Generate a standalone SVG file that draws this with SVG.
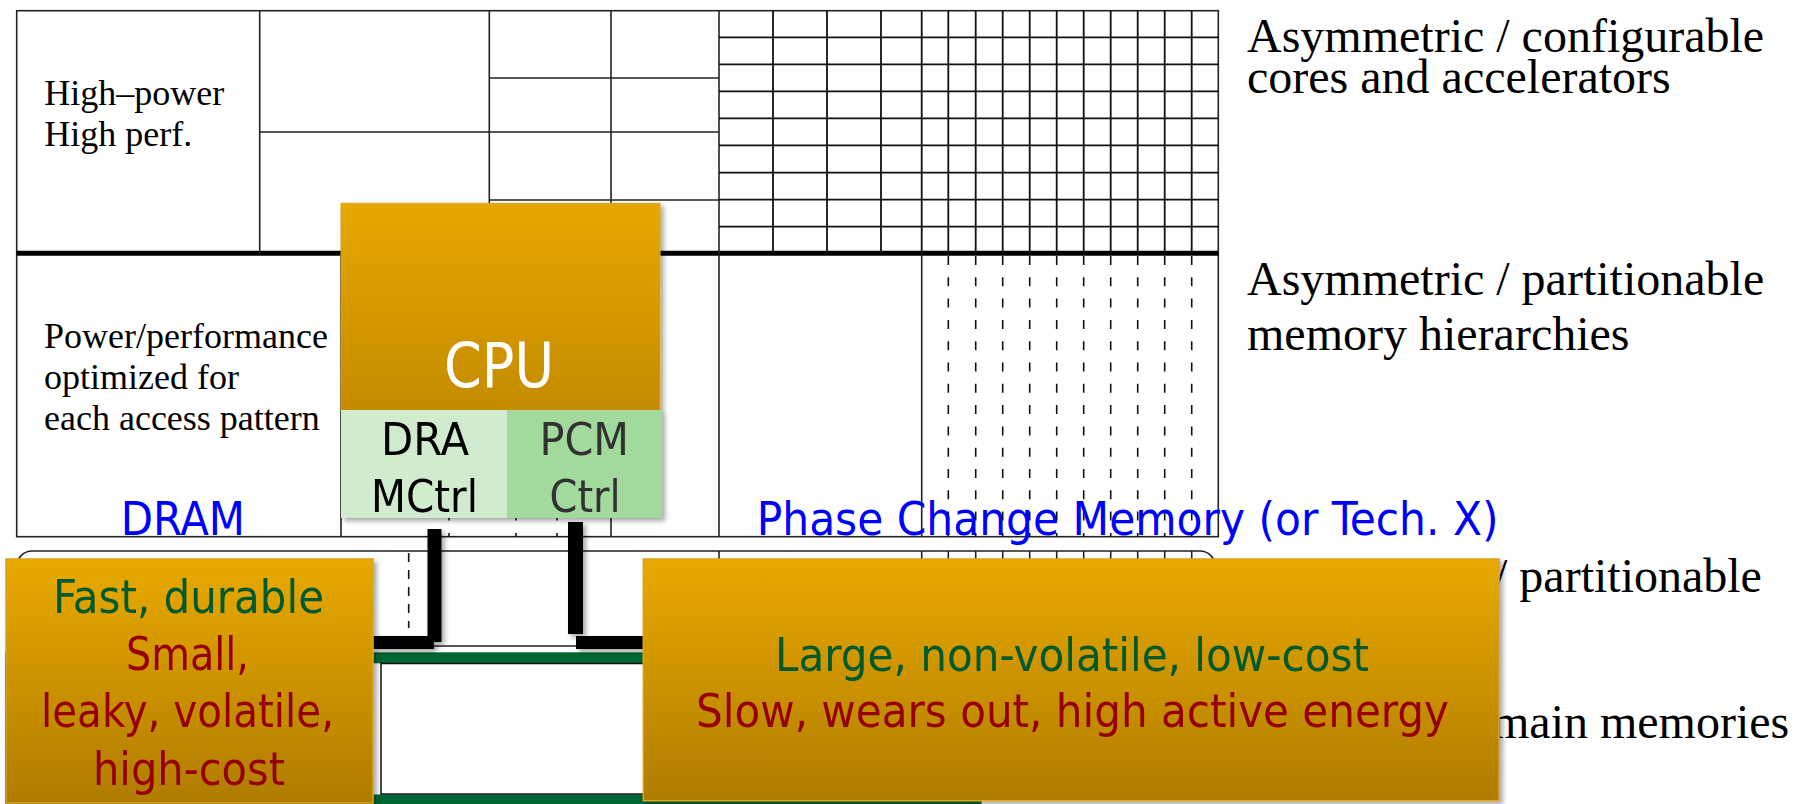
<svg xmlns="http://www.w3.org/2000/svg" width="1796" height="804" viewBox="0 0 1796 804">
<defs>
<linearGradient id="gCpu" x1="0" y1="0" x2="0" y2="1"><stop offset="0" stop-color="#E6A800"/><stop offset="1" stop-color="#C48B00"/></linearGradient>
<linearGradient id="gBox" x1="0" y1="0" x2="0" y2="1"><stop offset="0" stop-color="#E8A900"/><stop offset="1" stop-color="#B07C00"/></linearGradient>
<filter id="shadow" x="-5%" y="-5%" width="115%" height="115%"><feDropShadow dx="3" dy="3" stdDeviation="2.5" flood-color="#000" flood-opacity="0.35"/></filter>
<style>
.ln{stroke:#222;stroke-width:1.6;fill:none}
.gl{stroke:#111;stroke-width:1.8;fill:none}
.ds{stroke:#111;stroke-width:1.6;stroke-dasharray:9 12.3;fill:none}
.ds2{stroke:#111;stroke-width:1.6;stroke-dasharray:9 8;fill:none}
.serif{font-family:'Liberation Serif','Times New Roman',serif;fill:#000}
.sans{font-family:'DejaVu Sans Condensed','DejaVu Sans',sans-serif;font-stretch:condensed}
.grn{fill:#005A2E}
.red{fill:#960000}
.blue{fill:#0000FF}
.box{fill:url(#gBox);stroke:#D9A520;stroke-width:1.5}
.conn{stroke:#000;fill:none}
</style>
</defs>
<rect width="1796" height="804" fill="#fff"/>

<g id="table">
  <!-- sections 1 and 2 -->
  <rect class="ln" x="16.7" y="10.7" width="1201.6" height="526"/>
  <line x1="16.7" y1="253.3" x2="1218.3" y2="253.3" stroke="#000" stroke-width="5"/>
  <!-- section 1 columns -->
  <path class="ln" d="M259.7,10.7V253.3M489.3,10.7V253.3M611,10.7V253.3M719,10.7V253.3"/>
  <path class="ln" d="M259.7,132H489.3M489.3,78H719M489.3,132H719M489.3,200H719"/>
  <path class="gl" d="M719,37.3H1218.3M719,64.3H1218.3M719,91.3H1218.3M719,118.3H1218.3M719,145.3H1218.3M719,172.7H1218.3M719,199.7H1218.3M719,226.7H1218.3"/>
  <path class="gl" d="M773,10.7V253.3M827,10.7V253.3M881,10.7V253.3M921.7,10.7V253.3M948.3,10.7V253.3M975.7,10.7V253.3M1002.7,10.7V253.3M1029.7,10.7V253.3M1056.7,10.7V253.3M1083.7,10.7V253.3M1110.7,10.7V253.3M1137.7,10.7V253.3M1164.7,10.7V253.3M1191.7,10.7V253.3"/>
  <!-- section 2 -->
  <path class="ln" d="M341,253.3V536.7M611,253.3V536.7M719,253.3V536.7M921.7,253.3V536.7"/>
  <path class="ds" d="M449,256V536.7M516,256V536.7M557,256V536.7M948.3,256V536.7M975.7,256V536.7M1002.7,256V536.7M1029.7,256V536.7M1056.7,256V536.7M1083.7,256V536.7M1110.7,256V536.7M1137.7,256V536.7M1164.7,256V536.7M1191.7,256V536.7"/>
  <!-- section 3 -->
  <rect class="ln" x="17" y="551" width="1198" height="95" rx="15" ry="15"/>
  <path class="ln" d="M719,551V646M921.7,551V646M948.3,551V646M975.7,551V646M1002.7,551V646M1029.7,551V646M1056.7,551V646M1083.7,551V646M1110.7,551V646M1137.7,551V646M1164.7,551V646M1191.7,551V646"/>
  <path class="ds2" d="M408.7,553V628"/>
  <!-- section 4 -->
  <rect x="10.5" y="657.8" width="965.5" height="142.2" fill="#fff" stroke="#006633" stroke-width="11"/>
  <rect x="381" y="663.5" width="590" height="130.5" fill="#fff" stroke="#111" stroke-width="1.5"/>
</g>

<g id="row-labels" class="serif" font-size="48">
  <text x="1247" y="52">Asymmetric / configurable</text>
  <text x="1247" y="93">cores and accelerators</text>
  <text x="1247" y="295">Asymmetric / partitionable</text>
  <text x="1247" y="350">memory hierarchies</text>
  <text x="1494" y="592">/ partitionable</text>
  <text x="1492" y="738">main memories</text>
</g>

<g id="cell-labels" class="serif">
  <text x="44.3" y="105" font-size="36">High–power</text>
  <text x="44.3" y="145.7" font-size="36">High perf.</text>
  <text x="44" y="348" font-size="36">Power/performance</text>
  <text x="44" y="389" font-size="36">optimized for</text>
  <text x="44" y="430" font-size="36">each access pattern</text>
</g>

<g id="mem-labels" class="sans blue" font-size="46">
  <text x="120.7" y="535" textLength="124.3" lengthAdjust="spacingAndGlyphs">DRAM</text>
  <text x="756.7" y="535" textLength="741.8" lengthAdjust="spacingAndGlyphs">Phase Change Memory (or Tech. X)</text>
</g>

<g id="connectors">
  <g filter="url(#shadow)">
    <path class="conn" stroke-width="14" d="M434.5,529V642"/>
    <path class="conn" stroke-width="13" d="M434,642.5H373"/>
    <path class="conn" stroke-width="15" d="M575.5,522V634"/>
    <path class="conn" stroke-width="13" d="M576,642.5H644"/>
  </g>
</g>

<g id="cpu" filter="url(#shadow)">
  <rect x="341" y="203.3" width="319" height="207" fill="url(#gCpu)" stroke="#D9A520" stroke-width="1"/>
  <text class="sans" x="444" y="387" font-size="62" fill="#fff" textLength="110" lengthAdjust="spacingAndGlyphs">CPU</text>
  <g id="dram-ctrl">
    <rect x="341" y="410" width="166" height="108" fill="#D0EBCD"/>
    <text class="sans" x="381" y="455" font-size="45" fill="#000" textLength="88" lengthAdjust="spacingAndGlyphs">DRA</text>
    <text class="sans" x="371" y="511.7" font-size="45" fill="#000" textLength="107" lengthAdjust="spacingAndGlyphs">MCtrl</text>
  </g>
  <g id="pcm-ctrl">
    <rect x="507" y="410" width="155" height="108" fill="#A2D99C"/>
    <text class="sans" x="539.5" y="455" font-size="45" fill="#333" textLength="89.5" lengthAdjust="spacingAndGlyphs">PCM</text>
    <text class="sans" x="549.6" y="511.7" font-size="45" fill="#333" textLength="71" lengthAdjust="spacingAndGlyphs">Ctrl</text>
  </g>
</g>

<g id="dram" filter="url(#shadow)">
  <rect class="box" x="6" y="559" width="367" height="244"/>
  <g class="sans" font-size="46">
    <text class="grn" x="53" y="613.3" textLength="271" lengthAdjust="spacingAndGlyphs">Fast, durable</text>
    <text class="red" x="126" y="670" textLength="123" lengthAdjust="spacingAndGlyphs">Small,</text>
    <text class="red" x="41" y="726.7" textLength="293" lengthAdjust="spacingAndGlyphs">leaky, volatile,</text>
    <text class="red" x="93" y="785" textLength="192" lengthAdjust="spacingAndGlyphs">high-cost</text>
  </g>
</g>

<g id="pcm" filter="url(#shadow)">
  <rect class="box" x="643.3" y="559" width="855.7" height="241.7"/>
  <g class="sans" font-size="46">
    <text class="grn" x="775" y="670.7" textLength="594" lengthAdjust="spacingAndGlyphs">Large, non-volatile, low-cost</text>
    <text class="red" x="696" y="727.3" textLength="753" lengthAdjust="spacingAndGlyphs">Slow, wears out, high active energy</text>
  </g>
</g>
</svg>
